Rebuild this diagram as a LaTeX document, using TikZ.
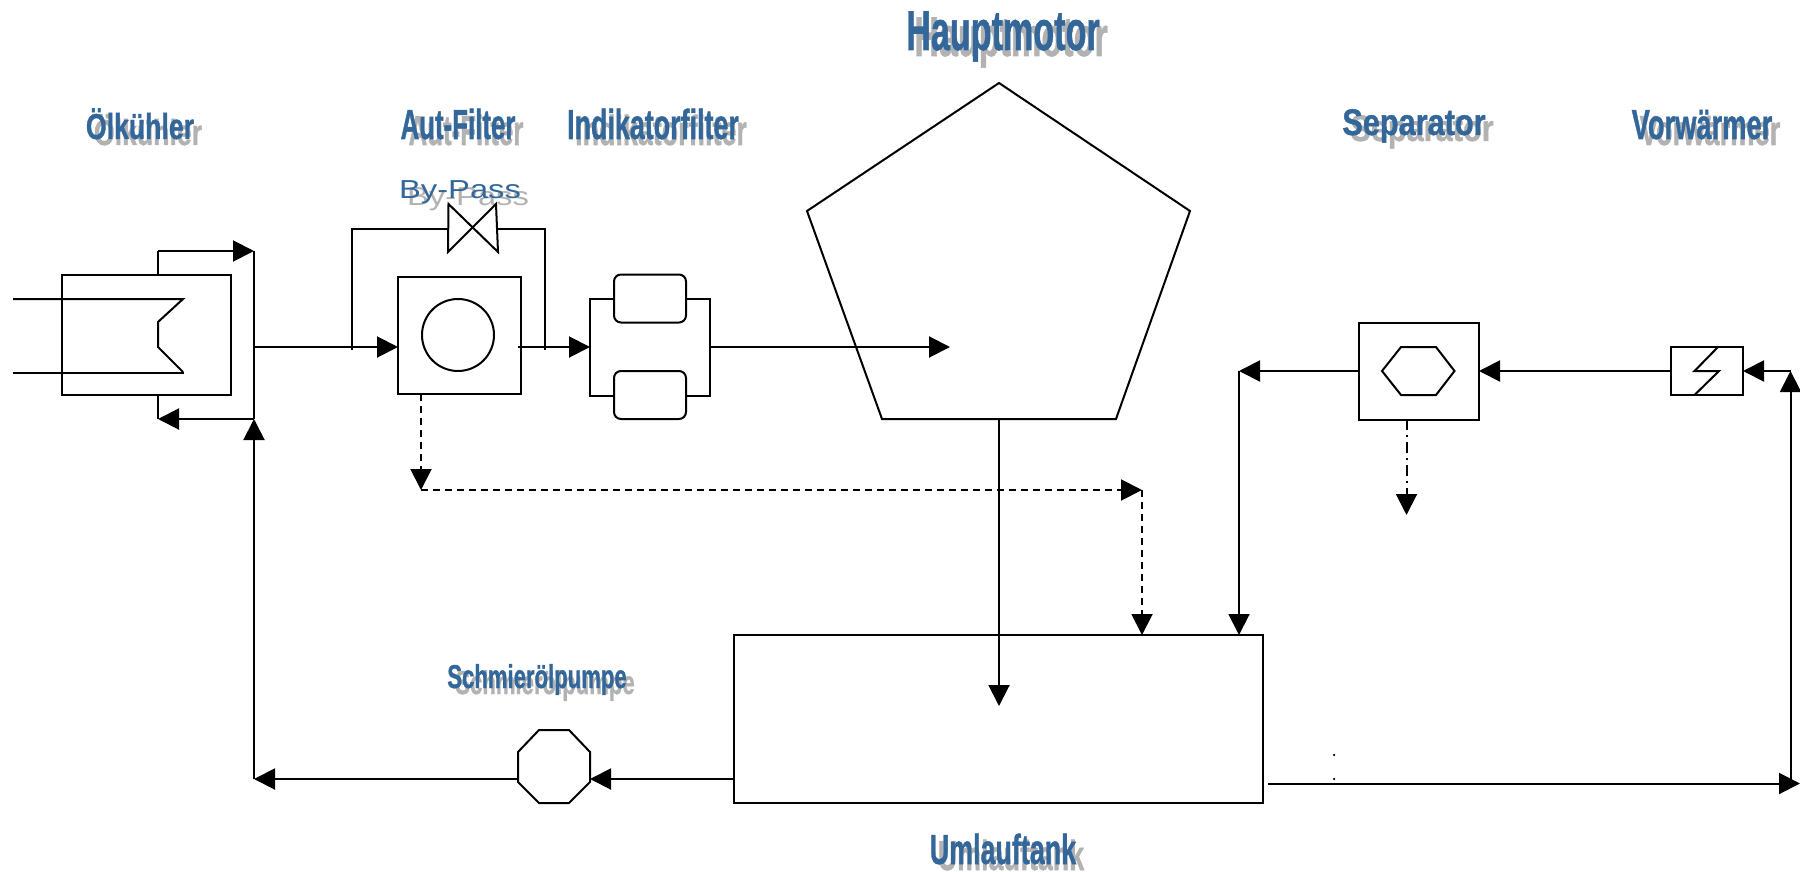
\documentclass[tikz,border=0pt]{standalone}
\usepackage{graphicx}
\usepackage{fontspec}
\setmainfont{Liberation Sans}
\newfontfamily\heavyfont[FakeBold=1.2]{Liberation Sans Bold}
\usetikzlibrary{arrows.meta}
\definecolor{lblblue}{HTML}{336699}
\definecolor{lblgray}{HTML}{B2B2B2}
\newcommand{\shlabel}[7]{% name, x, y, size, xscale, series, text
  \node[lblshadow] (#1s) at (#2+8,#3+6) {\fontsize{#4}{#4}\selectfont #6\scalebox{#5}[1]{#7}};
  \node[lbltext] (#1) at (#2,#3) {\fontsize{#4}{#4}\selectfont #6\scalebox{#5}[1]{#7}};
}
\tikzset{
  lbltext/.style={anchor=base,inner sep=0,outer sep=0,text=lblblue},
  lblshadow/.style={anchor=base,inner sep=0,outer sep=0,text=lblgray},
  pipe/.style={line width=2pt,line join=miter},
  flow/.style={pipe,-{Triangle[length=21pt,width=21pt]}},
  drain/.style={flow,dash pattern=on 7pt off 5pt},
  sludge/.style={flow,dash pattern=on 11pt off 5pt on 2pt off 5pt},
  unitbox/.style={draw,line width=2pt,inner sep=0,outer sep=0,minimum width=#1},
  softbox/.style={draw,line width=2pt,rounded corners=7pt,inner sep=0,outer sep=0,minimum width=72pt,minimum height=48pt,fill=white},
  speck/.style={circle,fill=black,inner sep=0,minimum size=2.5pt},
}
\begin{document}
\begin{tikzpicture}[x=1pt,y=-1pt]
\useasboundingbox (0,0) rectangle (1800,872);
% labels
\shlabel{lmotor}{1003}{50}{56}{.61}{\heavyfont}{Hauptmotor}
\shlabel{lcooler}{140}{139}{36}{.74}{\heavyfont}{Ölkühler}
\shlabel{laut}{458}{139}{42}{.615}{\heavyfont}{Aut-Filter}
\shlabel{lind}{653}{139}{42}{.64}{\heavyfont}{Indikatorfilter}
\shlabel{lsep}{1414}{135}{37}{.83}{\heavyfont}{Separator}
\shlabel{lvor}{1702}{139}{42}{.65}{\heavyfont}{Vorwärmer}
\shlabel{lpump}{537}{688}{33}{.67}{\heavyfont}{Schmierölpumpe}
\shlabel{ltank}{1003}{864}{42}{.64}{\heavyfont}{Umlauftank}
\shlabel{lby}{460}{199}{26}{1.26}{}{By-Pass}
% units
\node[unitbox=169pt,minimum height=120pt] (cooler) at (146,335) {};
\node[unitbox=123pt,minimum height=117pt] (autf) at (459.5,335.5) {};
\node[draw,circle,line width=2pt,inner sep=0,minimum size=72pt] (autc) at (458,335) {};
\node[unitbox=120pt,minimum height=97pt] (indf) at (650,347) {};
\node[softbox] (indA) at (650,298.5) {};
\node[softbox] (indB) at (650,395) {};
\node[unitbox=120pt,minimum height=97pt] (sep) at (1418.5,371) {};
\node[unitbox=72pt,minimum height=48pt] (vor) at (1707,371) {};
\node[unitbox=529pt,minimum height=168pt] (tank) at (998,719) {};
% pentagon
\coordinate (p1) at (999,83); \coordinate (p2) at (1190,211); \coordinate (p3) at (1116,419);
\coordinate (p4) at (882,419); \coordinate (p5) at (807,211);
\draw[pipe] (p1) -- (p2) -- (p3) -- (p4) -- (p5) -- cycle;
% pump
\coordinate (o1) at (539,730); \coordinate (o2) at (569,730); \coordinate (o3) at (590,752);
\coordinate (o4) at (590,782); \coordinate (o5) at (569,803); \coordinate (o6) at (539,803);
\coordinate (o7) at (518,782); \coordinate (o8) at (518,752);
\draw[pipe] (o1) -- (o2) -- (o3) -- (o4) -- (o5) -- (o6) -- (o7) -- (o8) -- cycle;
% valve
\coordinate (v1) at (448.5,204); \coordinate (v2) at (498,252); \coordinate (v3) at (496,204); \coordinate (v4) at (448,252);
\draw[pipe] (v1) -- (v2) -- (v3) -- (v4) -- cycle;
% cooler coil
\coordinate (c1) at (13,299); \coordinate (c2) at (183,299); \coordinate (c3) at (158,322);
\coordinate (c4) at (158,347); \coordinate (c5) at (183,372); \coordinate (c6) at (13,373); \coordinate (c7) at (184,373);
\draw[pipe] (c1) -- (c2) -- (c3) -- (c4) -- (c5);
\draw[pipe] (c6) -- (c7);
% separator hexagon
\coordinate (h1) at (1382,371); \coordinate (h2) at (1401,347); \coordinate (h3) at (1436,347);
\coordinate (h4) at (1454.5,371); \coordinate (h5) at (1436,395); \coordinate (h6) at (1401,395);
\draw[pipe] (h1) -- (h2) -- (h3) -- (h4) -- (h5) -- (h6) -- cycle;
% preheater bolt
\coordinate (b1) at (1718,347); \coordinate (b2) at (1694.5,371); \coordinate (b3) at (1719,371); \coordinate (b4) at (1694.5,395);
\draw[pipe] (b1) -- (b2) -- (b3) -- (b4);
% junctions
\coordinate (ct) at (158,275); \coordinate (ctc) at (158,251); \coordinate (busT) at (254,251);
\coordinate (cb) at (158,395); \coordinate (cbc) at (158,419); \coordinate (busB) at (254,419);
\coordinate (busM) at (254,347); \coordinate (fin) at (398,347); \coordinate (byL) at (352,348);
\coordinate (byLb) at (352,350); \coordinate (byLt) at (352,229); \coordinate (vL) at (449,229);
\coordinate (vR) at (497,229); \coordinate (byRt) at (545,229); \coordinate (byRb) at (545,350);
\coordinate (fout) at (518,347); \coordinate (indin) at (590,347); \coordinate (indout) at (710,347);
\coordinate (motin) at (950,347); \coordinate (mbot) at (999,419); \coordinate (tkin) at (999,706);
\coordinate (pumpL) at (518,779); \coordinate (pumpR) at (590,779); \coordinate (tankL) at (734,779);
\coordinate (busL) at (254,779);
\coordinate (d0) at (421,394); \coordinate (d1) at (421,490); \coordinate (d2) at (1142,490); \coordinate (d3) at (1142,635);
\coordinate (ret) at (1239,371); \coordinate (retT) at (1239,635); \coordinate (sepL) at (1358,371);
\coordinate (sepR) at (1479,371); \coordinate (vorL) at (1670,371); \coordinate (vorR) at (1743,371);
\coordinate (rise) at (1790.5,371); \coordinate (riseB) at (1790.5,783.5); \coordinate (tout) at (1268,783.5); \coordinate (tend) at (1800,783.5);
\coordinate (s0) at (1406.5,419); \coordinate (s1) at (1406.5,515);
% connectors
\draw[pipe] (ct) -- (ctc);
\draw[flow] (ctc) -- (busT);
\draw[pipe] (busT) -- (busB);
\draw[pipe] (cb) -- (cbc);
\draw[flow] (busB) -- (cbc);
\draw[flow] (busL) -- (busB);
\draw[flow] (busM) -- (fin);
\draw[pipe] (byLb) -- (byLt) -- (vL);
\draw[pipe] (vR) -- (byRt) -- (byRb);
\draw[flow] (fout) -- (indin);
\draw[flow] (indout) -- (motin);
\draw[flow] (mbot) -- (tkin);
\draw[flow] (tankL) -- (pumpR);
\draw[flow] (pumpL) -- (busL);
\draw[drain] (d0) -- (d1);
\draw[drain] (d1) -- (d2);
\draw[drain] (d2) -- (d3);
\draw[flow] (sepL) -- (ret);
\draw[flow] (ret) -- (retT);
\draw[flow] (vorL) -- (sepR);
\draw[flow] (rise) -- (vorR);
\draw[flow] (riseB) -- (rise);
\draw[flow] (tout) -- (tend);
\draw[sludge] (s0) -- (s1);
\node[speck] (dotA) at (1334,755) {};
\node[speck] (dotB) at (1334,779) {};
\end{tikzpicture}
\end{document}
